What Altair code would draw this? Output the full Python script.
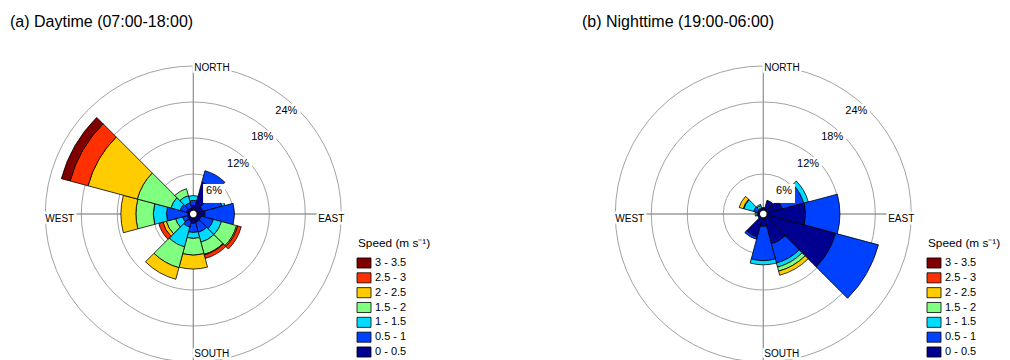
import math
import altair as alt
import pandas as pd

# ---------------- data ----------------
directions = [0, 30, 60, 90, 120, 150, 180, 210, 240, 270, 300, 330]
speed_bins = ["0 - 0.5", "0.5 - 1", "1 - 1.5", "1.5 - 2", "2 - 2.5", "2.5 - 3", "3 - 3.5"]
bin_colors = ["#000090", "#0040FF", "#00DCFF", "#80FF80", "#FFCC00", "#FF3000", "#800000"]
ring_values = [6, 12, 18, 24]
ring_labels = ["6%", "12%", "18%", "24%"]

# (a) daytime: frequency (%) of each speed bin per direction
day_0_05 = [0.8, 4.8, 1.0, 1.3, 0.7, 0.8, 0.9, 0.6, 0.4, 0.3, 0.5, 0.4]
day_05_1 = [0.8, 2.0, 3.3, 4.9, 2.1, 1.7, 1.5, 1.0, 0.8, 3.5, 1.1, 0.9]
day_1_15 = [0.8, 0.0, 0.5, 0.0, 1.4, 1.7, 1.0, 3.4, 1.2, 2.2, 1.6, 1.2]
day_15_2 = [0.0, 0.0, 0.0, 0.0, 2.6, 2.1, 2.8, 3.6, 1.6, 2.9, 5.8, 1.2]
day_2_25 = [0.0, 0.0, 0.0, 0.0, 0.2, 0.1, 2.3, 2.0, 0.6, 2.5, 8.5, 0.0]
day_25_3 = [0.0, 0.0, 0.0, 0.0, 0.6, 0.6, 0.0, 0.0, 0.7, 0.0, 3.1, 0.0]
day_3_35 = [0.0, 0.0, 0.0, 0.0, 0.0, 0.0, 0.0, 0.0, 0.0, 0.0, 1.5, 0.0]

# (b) nighttime
night_0_05 = [0.4, 1.7, 2.6, 6.4, 11.8, 4.5, 1.4, 3.3, 0.3, 0.2, 0.3, 0.2]
night_05_1 = [0.0, 0.0, 3.7, 5.7, 7.4, 3.3, 5.7, 0.4, 0.0, 0.2, 0.7, 0.2]
night_1_15 = [0.0, 0.0, 0.8, 0.0, 0.0, 0.7, 0.7, 0.0, 0.0, 0.3, 1.7, 0.4]
night_15_2 = [0.0, 0.0, 0.0, 0.0, 0.0, 0.7, 0.0, 0.0, 0.0, 0.0, 0.1, 0.2]
night_2_25 = [0.0, 0.0, 0.0, 0.0, 0.0, 0.7, 0.0, 0.0, 0.0, 0.0, 0.7, 0.0]
night_25_3 = [0.0, 0.0, 0.0, 0.0, 0.0, 0.0, 0.0, 0.0, 0.0, 0.0, 0.0, 0.0]
night_3_35 = [0.0, 0.0, 0.0, 0.0, 0.0, 0.0, 0.0, 0.0, 0.0, 0.0, 0.0, 0.0]

day_freqs = [day_0_05, day_05_1, day_1_15, day_15_2, day_2_25, day_25_3, day_3_35]
night_freqs = [night_0_05, night_05_1, night_1_15, night_15_2, night_2_25, night_25_3, night_3_35]

# ---------------- layout ----------------
W, H = 994, 352
CY = 206
CX_DAY, CX_NIGHT = 185.3, 755.3
R_IN, R_OUT, P_MAX = 4, 148, 24
FONT = "Liberation Sans"
GRID = "#8a8a8a"

theta_scale = alt.Scale(domain=[0, 360], range=[0, 2 * math.pi])
r_scale = alt.Scale(type="linear", domain=[0, P_MAX], range=[R_IN, R_OUT], zero=False)
color_scale = alt.Scale(domain=speed_bins, range=bin_colors)


def build(freqs):
    rows = []
    for i, d in enumerate(directions):
        cum = 0.0
        for b, arr in enumerate(freqs):
            v = arr[i]
            if v > 0:
                rows.append(dict(dir=d, t0=d - 15, t1=d + 15, lo=cum, hi=cum + v,
                                 bin=speed_bins[b]))
            cum += v
    return pd.DataFrame(rows)


rings_df = pd.DataFrame({"p": ring_values, "t0": [0] * 4, "t1": [360] * 4})
spokes_df = pd.DataFrame({"t0": [0, 90, 180, 270], "t1": [0.001, 90.001, 180.001, 270.001],
                          "lo": [0, 0, 0, 0], "hi": [P_MAX] * 4})
ring_lab_df = pd.DataFrame({"p": ring_values, "lab": ring_labels, "t": [42] * 4})


def rose(freqs, cx):
    layers = []
    layers.append(alt.Chart(rings_df).mark_arc(filled=False, stroke=GRID, strokeWidth=0.8).encode(
        theta=alt.Theta("t0:Q", scale=theta_scale), theta2="t1",
        radius=alt.Radius("p:Q", scale=r_scale),
        x=alt.value(cx), y=alt.value(CY)))
    layers.append(alt.Chart(spokes_df).mark_arc(filled=False, stroke=GRID, strokeWidth=0.8).encode(
        theta=alt.Theta("t0:Q", scale=theta_scale), theta2="t1",
        radius=alt.Radius("hi:Q", scale=r_scale), radius2="lo",
        x=alt.value(cx), y=alt.value(CY)))
    layers.append(alt.Chart(build(freqs)).mark_arc(stroke="black", strokeWidth=0.8).encode(
        theta=alt.Theta("t0:Q", scale=theta_scale), theta2="t1",
        radius=alt.Radius("hi:Q", scale=r_scale), radius2="lo",
        color=alt.Color("bin:N", scale=color_scale, legend=None),
        x=alt.value(cx), y=alt.value(CY)))
    # white label boxes for the ring labels
    for p, lab in zip(ring_values, ring_labels):
        rr = R_IN + (R_OUT - R_IN) * p / P_MAX - 9
        bx = cx + rr * math.sin(math.radians(42))
        by = CY - rr * math.cos(math.radians(42)) + 2.5
        bw = 22 if len(lab) == 2 else 28
        layers.append(alt.Chart(pd.DataFrame({"a": [0]})).mark_rect(color="white").encode(
            x=alt.value(bx - bw / 2), x2=alt.value(bx + bw / 2),
            y=alt.value(by - 9.5), y2=alt.value(by + 9.5)))
    layers.append(alt.Chart(ring_lab_df).mark_text(
        font=FONT, fontSize=11, color="black", radiusOffset=-9).encode(
        theta=alt.Theta("t:Q", scale=theta_scale),
        radius=alt.Radius("p:Q", scale=r_scale), text="lab:N",
        x=alt.value(cx), y=alt.value(CY)))
    comp = [("NORTH", 0, "left", 1, 2), ("SOUTH", 180, "left", 1, -8),
            ("WEST", 270, "left", 0, 5), ("EAST", 90, "right", 3, 5)]
    for lab, t, al, dx, dy in comp:
        d = pd.DataFrame({"lab": [lab], "t": [t], "p": [P_MAX]})
        for halo in (True, False):
            kw = dict(font=FONT, fontSize=10, align=al, baseline="middle", dx=dx, dy=dy)
            if halo:
                kw.update(stroke="white", strokeWidth=5, fill="white", strokeJoin="round")
            else:
                kw.update(color="black")
            layers.append(alt.Chart(d).mark_text(**kw).encode(
                theta=alt.Theta("t:Q", scale=theta_scale),
                radius=alt.Radius("p:Q", scale=r_scale), text="lab:N",
                x=alt.value(cx), y=alt.value(CY)))
    return layers


legend_df = pd.DataFrame({"bin": speed_bins})
legend_y = alt.Y("bin:N", scale=alt.Scale(type="point", domain=speed_bins[::-1],
                                          range=[255, 344], padding=0), axis=None)
BOX = "M-1,-0.72L1,-0.72L1,0.72L-1,0.72Z"


def legend(x0):
    boxes = alt.Chart(legend_df).mark_point(
        shape=BOX, size=196, filled=True, opacity=1, stroke="black", strokeWidth=0.8).encode(
        x=alt.value(x0 + 7), y=legend_y,
        color=alt.Color("bin:N", scale=color_scale, legend=None))
    labels = alt.Chart(legend_df).mark_text(
        font=FONT, fontSize=11, align="left", baseline="middle", color="black").encode(
        x=alt.value(x0 + 18), y=legend_y, text="bin:N")
    title = alt.Chart(pd.DataFrame({"a": [0]})).mark_text(
        font=FONT, fontSize=11.8, align="left", baseline="middle", color="black",
        text="Speed (m s\u207b\u00b9)").encode(x=alt.value(x0 + 1), y=alt.value(235))
    return [boxes, labels, title]


def title(txt, x):
    return alt.Chart(pd.DataFrame({"a": [0]})).mark_text(
        font=FONT, fontSize=16, align="left", baseline="middle", color="black",
        text=txt).encode(x=alt.value(x), y=alt.value(14))


layers = []
layers += rose(day_freqs, CX_DAY)
layers += rose(night_freqs, CX_NIGHT)
layers += legend(349)
layers += legend(919)
layers.append(title("(a) Daytime (07:00-18:00)", 2))
layers.append(title("(b) Nighttime (19:00-06:00)", 574))

chart = alt.layer(*layers).properties(
    width=W, height=H, autosize=alt.AutoSizeParams(type="none"), padding=0,
    background="white"
).configure_view(strokeWidth=0, stroke="transparent")

chart.save("out.html", embed_options={"renderer": "svg", "actions": False})
